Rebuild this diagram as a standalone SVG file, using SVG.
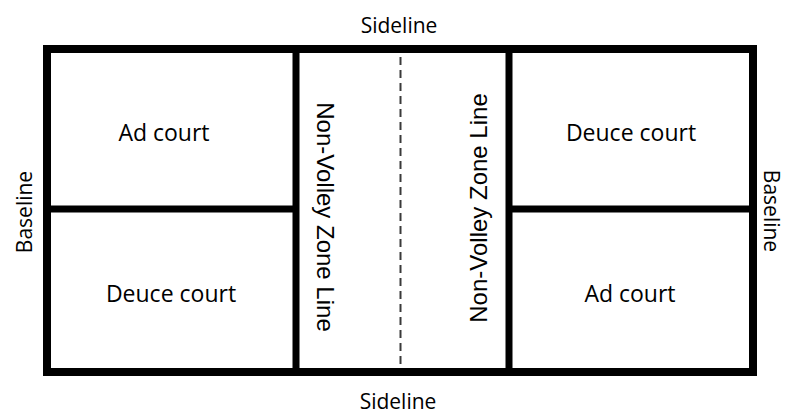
<svg xmlns="http://www.w3.org/2000/svg" width="785" height="417" viewBox="0 0 785 417">
<style>
.court{fill:#ffffff;stroke:#000000;stroke-width:7}
.line{stroke:#000000;stroke-width:7;fill:none}
.dash{stroke:#3a3a3a;stroke-width:2;stroke-dasharray:8,5;fill:none}
.lbl{font-family:"Open Sans","Liberation Sans",sans-serif;font-size:23px;fill:#000000;text-anchor:middle}
.edge{font-family:"Open Sans","Liberation Sans",sans-serif;font-size:21px;fill:#000000;text-anchor:middle}
.nvz{font-family:"Liberation Sans",Arial,sans-serif;font-size:24px;fill:#000000;text-anchor:middle}
</style>
<rect width="785" height="417" fill="#ffffff"/>
<g id="court-outline">
<rect x="47" y="49" width="706" height="323" fill="#ffffff" stroke="#000000" stroke-width="8"/>
</g>
<g id="connectors">
<line class="line" x1="47" y1="209" x2="296" y2="209"/>
<line class="line" x1="509" y1="209" x2="753" y2="209"/>
<line class="line" x1="296" y1="49" x2="296" y2="372"/>
<line class="line" x1="509" y1="49" x2="509" y2="372"/>
<line class="dash" x1="400.5" y1="57" x2="400.5" y2="366"/>
</g>
<g id="ad-court-left"><text class="lbl" x="164" y="141">Ad court</text></g>
<g id="deuce-court-left"><text class="lbl" x="171" y="302">Deuce court</text></g>
<g id="deuce-court-right"><text class="lbl" x="631" y="141">Deuce court</text></g>
<g id="ad-court-right"><text class="lbl" x="630" y="302">Ad court</text></g>
<g id="nvz-left"><text class="nvz" transform="translate(317,217) rotate(90)">Non-Volley Zone Line</text></g>
<g id="nvz-right"><text class="nvz" transform="translate(487,208) rotate(-90)">Non-Volley Zone Line</text></g>
<g id="sideline-top"><text class="edge" x="399" y="33">Sideline</text></g>
<g id="sideline-bottom"><text class="edge" x="398" y="409">Sideline</text></g>
<g id="baseline-left"><text class="edge" transform="translate(32,212) rotate(-90)">Baseline</text></g>
<g id="baseline-right"><text class="edge" transform="translate(764,211) rotate(90)">Baseline</text></g>
</svg>
